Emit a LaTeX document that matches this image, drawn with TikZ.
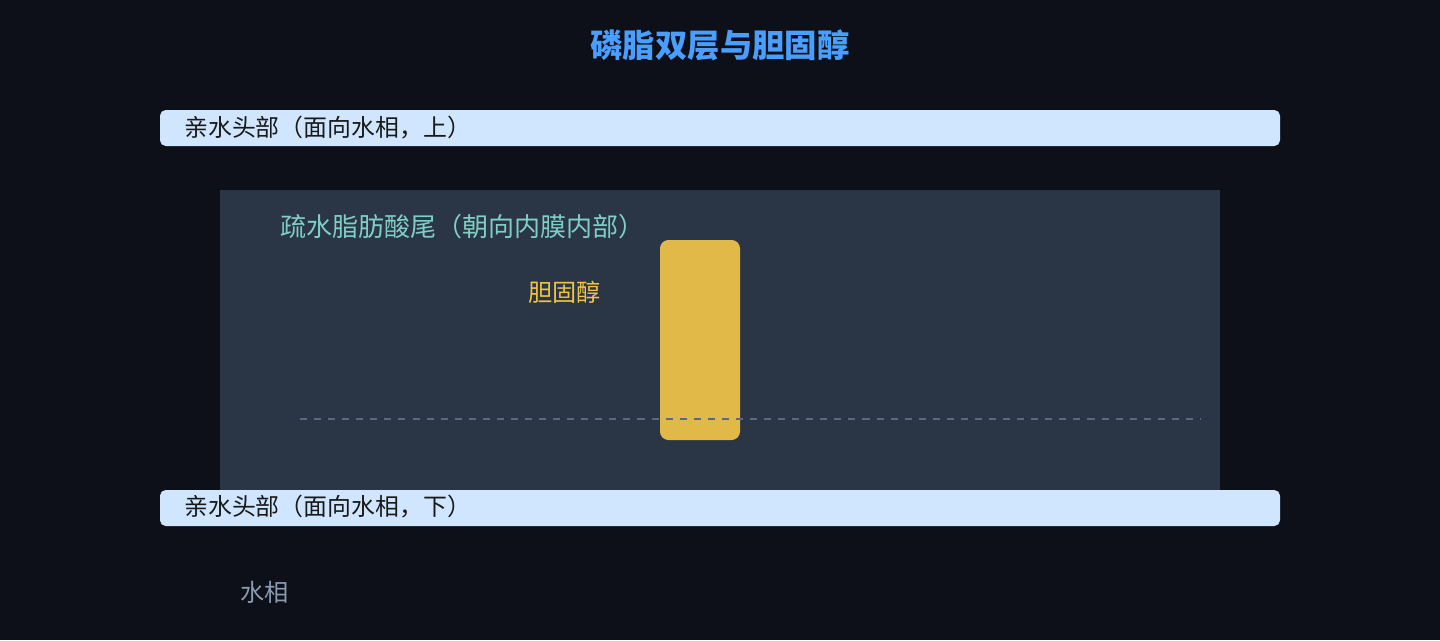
\documentclass[tikz,border=0pt]{standalone}
\usepackage{fontspec}
\setmainfont{Noto Sans CJK SC}
\definecolor{bgdark}{HTML}{0D1018}
\definecolor{titleblue}{HTML}{4A9EFF}
\definecolor{headfill}{HTML}{D0E6FF}
\definecolor{tailfill}{HTML}{2A3545}
\definecolor{tailtext}{HTML}{7FCFC4}
\definecolor{cholfill}{HTML}{E1B948}
\definecolor{choltext}{HTML}{F2C443}
\definecolor{midline}{HTML}{5A6880}
\definecolor{watertext}{HTML}{8A9CB4}

\tikzset{%
  head bar/.style={
    fill=headfill,
    draw=none,
    rounded corners=4pt
  },
  head label/.style={
    anchor=west,
    inner sep=0pt,
    text=black!90,
    font=\fontsize{17pt}{20pt}\selectfont
  },
  plain label/.style={
    anchor=west,
    inner sep=0pt,
    font=\fontsize{17.2pt}{20pt}\selectfont
  },
}

\begin{document}
\begin{tikzpicture}[x=0.025cm,y=-0.025cm]
\fill[bgdark] (0,0) rectangle (1440,640);
\node[font=\bfseries\fontsize{23pt}{26pt}\selectfont,text=titleblue] (title) at (720,45) {磷脂双层与胆固醇};
% upper heads
\draw[head bar] (160,110) rectangle (1280,146);
\node[head label] (headup) at (184,128) {亲水头部（面向水相，上）};
% tail region
\fill[tailfill] (220,190) rectangle (1220,490);
\node[plain label,text=tailtext,font=\fontsize{18.5pt}{21pt}\selectfont] (tails) at (280,227) {疏水脂肪酸尾（朝向内膜内部）};
\fill[cholfill,rounded corners=6pt] (660,240) rectangle (740,440);
\node[plain label,text=choltext] (chol) at (528,292) {胆固醇};
\draw[midline,line width=1pt,dash pattern=on 5pt off 5pt] (300,419) -- (1200,419);
% lower heads
\draw[head bar] (160,490) rectangle (1280,526);
\node[head label] (headdown) at (184,507) {亲水头部（面向水相，下）};
\node[plain label,text=watertext] (water) at (240,592) {水相};
\end{tikzpicture}
\end{document}
